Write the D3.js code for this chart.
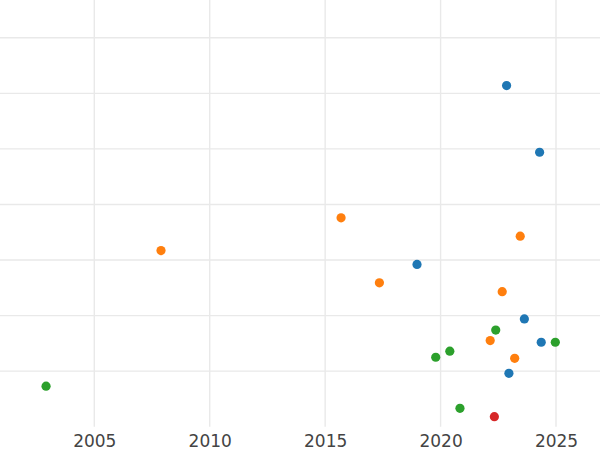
<!DOCTYPE html>
<html>
<head>
<meta charset="utf-8">
<script src="https://cdn.jsdelivr.net/npm/d3@7"></script>
<style>
  html, body { margin: 0; padding: 0; background: #fff; }
  svg { display: block; }
</style>
</head>
<body>
<svg id="chart" width="600" height="450"></svg>
<script>
const xTicks = [2005, 2010, 2015, 2020, 2025];
const yTicks = [0, 1, 2, 3, 4, 5, 6];

const seriesNames = ["blue", "orange", "green", "red"];
const seriesColors = ["#1f77b4", "#ff7f0e", "#2ca02c", "#d62728"];

const blueX = [2022.86, 2024.29, 2018.98, 2023.63, 2024.36, 2022.96];
const blueY = [5.14, 3.94, 1.92, 0.94, 0.52, -0.04];
const orangeX = [2015.69, 2007.89, 2023.45, 2017.35, 2022.67, 2022.15, 2023.21];
const orangeY = [2.76, 2.17, 2.43, 1.59, 1.43, 0.55, 0.23];
const greenX = [2002.91, 2022.39, 2020.40, 2019.79, 2024.97, 2020.84];
const greenY = [-0.27, 0.74, 0.36, 0.25, 0.52, -0.67];
const redX = [2022.33];
const redY = [-0.82];

const seriesX = [blueX, orangeX, greenX, redX];
const seriesY = [blueY, orangeY, greenY, redY];

const points = [];
seriesNames.forEach((name, i) => {
  seriesX[i].forEach((xv, j) => points.push({ s: i, x: xv, y: seriesY[i][j] }));
});

const svg = d3.select("#chart");
const plotBottom = 426.7;

const x = d3.scaleLinear().domain([2000.915, 2026.906]).range([0, 600]);
const y = d3.scaleLinear().domain([-1, 6.68]).range([plotBottom, 0]);

// grid
svg.append("g").selectAll("line.h").data(yTicks).join("line")
  .attr("x1", 0).attr("x2", 600)
  .attr("y1", d => y(d)).attr("y2", d => y(d))
  .attr("stroke", "#e9e9e9").attr("stroke-width", 1.4);

svg.append("g").selectAll("line.v").data(xTicks).join("line")
  .attr("x1", d => x(d)).attr("x2", d => x(d))
  .attr("y1", 0).attr("y2", plotBottom)
  .attr("stroke", "#e9e9e9").attr("stroke-width", 1.4);

// x axis labels
const xAxis = d3.axisBottom(x).tickValues(xTicks).tickFormat(d3.format("d")).tickSize(0).tickPadding(0);
const gx = svg.append("g").attr("transform", `translate(0, ${plotBottom})`).call(xAxis);
gx.select(".domain").remove();
gx.selectAll("text")
  .attr("y", 20)
  .attr("dy", 0)
  .attr("font-family", "DejaVu Sans, sans-serif")
  .attr("font-size", 17)
  .attr("fill", "#444");

// points
svg.append("g").selectAll("circle").data(points).join("circle")
  .attr("cx", d => x(d.x))
  .attr("cy", d => y(d.y))
  .attr("r", 4.6)
  .attr("fill", d => seriesColors[d.s]);
</script>
</body>
</html>
